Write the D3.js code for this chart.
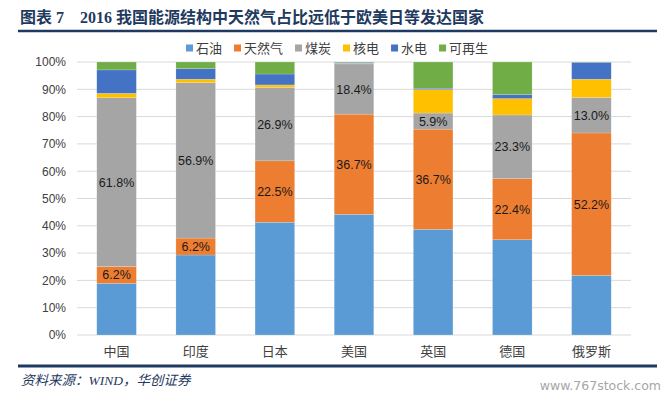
<!DOCTYPE html>
<html>
<head>
<meta charset="utf-8">
<script src="https://cdn.jsdelivr.net/npm/d3@7"></script>
<style>
  body { margin: 0; background: #fff; }
  svg { display: block; }
</style>
</head>
<body>
<svg id="chart" width="670" height="398"></svg>
<script>
const countries = ['中国', '印度', '日本', '美国', '英国', '德国', '俄罗斯'];
const seriesNames = ['石油', '天然气', '煤炭', '核电', '水电', '可再生'];
const seriesColors = ['#5b9bd5', '#ed7d31', '#a5a5a5', '#ffc000', '#4472c4', '#70ad47'];

// share of primary energy, %
const oil       = [18.9, 29.3, 41.3, 44.2, 38.7, 34.9, 21.8];
const gas       = [6.2, 6.2, 22.5, 36.7, 36.7, 22.4, 52.2];
const coal      = [61.8, 56.9, 26.9, 18.4, 5.9, 23.3, 13.0];
const nuclear   = [1.6, 1.3, 0.9, 0.2, 8.6, 6.0, 6.7];
const hydro     = [8.6, 3.9, 4.0, 0.4, 0.5, 1.5, 6.2];
const renewable = [2.9, 2.4, 4.4, 0.1, 9.6, 11.9, 0.1];
const labelled  = ['天然气', '煤炭'];

const yTicks = d3.range(0, 101, 10);
const titleText = '图表 7　2016 我国能源结构中天然气占比远低于欧美日等发达国家';
const sourceText = '资料来源：WIND，华创证券';
const watermark = 'www.767stock.com';

const navy = '#1f3a60';
const svg = d3.select('#chart');

const rows = countries.map((c, i) => ({
    country: c,
    '石油': oil[i], '天然气': gas[i], '煤炭': coal[i],
    '核电': nuclear[i], '水电': hydro[i], '可再生': renewable[i]
}));
const stacked = d3.stack().keys(seriesNames)(rows);

const x = d3.scaleBand().domain(countries).range([77, 631]).paddingInner(0.5).paddingOuter(0.25);
const y = d3.scaleLinear().domain([0, 100]).range([335, 62]);
const color = d3.scaleOrdinal().domain(seriesNames).range(seriesColors);

// title + rules
svg.append('text')
    .attr('x', 20).attr('y', 23)
    .attr('font-family', '"Liberation Serif", "Noto Sans CJK SC", serif')
    .attr('font-weight', 'bold')
    .attr('font-size', 16)
    .attr('fill', navy)
    .text(titleText);
svg.append('line').attr('x1', 18).attr('x2', 657).attr('y1', 31).attr('y2', 31)
    .attr('stroke', navy).attr('stroke-width', 2.5);
svg.append('line').attr('x1', 18).attr('x2', 657).attr('y1', 366).attr('y2', 366)
    .attr('stroke', navy).attr('stroke-width', 3);

// gridlines
svg.append('g')
    .selectAll('line')
    .data(yTicks)
    .join('line')
    .attr('x1', 77).attr('x2', 631)
    .attr('y1', d => y(d)).attr('y2', d => y(d))
    .attr('stroke', '#d9d9d9').attr('stroke-width', 1);

// y axis labels
const yAxis = svg.append('g')
    .attr('transform', 'translate(66,0)')
    .call(d3.axisLeft(y).tickValues(yTicks).tickFormat(d => d + '%').tickSize(0).tickPadding(0));
yAxis.select('.domain').remove();
yAxis.selectAll('text')
    .attr('font-family', '"Liberation Sans", Arial, sans-serif')
    .attr('font-size', 12)
    .attr('fill', '#404040');

// x axis labels
const xAxis = svg.append('g')
    .attr('transform', 'translate(0,335)')
    .call(d3.axisBottom(x).tickSize(0).tickPadding(12));
xAxis.select('.domain').remove();
xAxis.selectAll('text')
    .attr('font-family', '"Noto Sans CJK SC", sans-serif')
    .attr('font-size', 13)
    .attr('fill', '#404040');

// bars
const layers = svg.append('g')
    .selectAll('g')
    .data(stacked)
    .join('g')
    .attr('fill', d => color(d.key));
layers.selectAll('rect')
    .data(d => d)
    .join('rect')
    .attr('x', d => x(d.data.country))
    .attr('width', x.bandwidth())
    .attr('y', d => y(d[1]))
    .attr('height', d => y(d[0]) - y(d[1]))
    .attr('stroke', '#ffffff')
    .attr('stroke-opacity', 0.35)
    .attr('stroke-width', 0.5);

// data labels on gas and coal
svg.append('g')
    .selectAll('g')
    .data(stacked.filter(s => labelled.includes(s.key)))
    .join('g')
    .selectAll('text')
    .data(d => d.map(p => ({p, key: d.key})))
    .join('text')
    .attr('x', d => x(d.p.data.country) + x.bandwidth() / 2)
    .attr('y', d => (y(d.p[0]) + y(d.p[1])) / 2)
    .attr('dy', '0.36em')
    .attr('text-anchor', 'middle')
    .attr('font-family', '"Liberation Sans", Arial, sans-serif')
    .attr('font-size', 12.5)
    .attr('fill', '#1a1a1a')
    .text(d => d.p.data[d.key].toFixed(1) + '%');

// legend
const legend = svg.append('g').attr('transform', 'translate(186,48)');
let cursor = 0;
seriesNames.forEach(name => {
    const item = legend.append('g').attr('transform', `translate(${cursor},0)`);
    item.append('rect')
        .attr('x', 0).attr('y', -3.5)
        .attr('width', 7).attr('height', 7)
        .attr('fill', color(name));
    const t = item.append('text')
        .attr('x', 10).attr('dy', '0.36em')
        .attr('font-family', '"Noto Sans CJK SC", sans-serif')
        .attr('font-size', 13)
        .attr('fill', '#404040')
        .text(name);
    cursor += 10 + t.node().getComputedTextLength() + 12;
});

// source + watermark
svg.append('text')
    .attr('x', 21).attr('y', 385)
    .attr('font-family', '"Liberation Serif", "Noto Sans CJK SC", serif')
    .attr('font-style', 'italic')
    .attr('font-size', 13.5)
    .attr('fill', navy)
    .text(sourceText);
svg.append('text')
    .attr('x', 661).attr('y', 390)
    .attr('text-anchor', 'end')
    .attr('font-family', '"DejaVu Sans", sans-serif')
    .attr('font-size', 12.5)
    .attr('fill', '#a6a6a6')
    .text(watermark);
</script>
</body>
</html>
